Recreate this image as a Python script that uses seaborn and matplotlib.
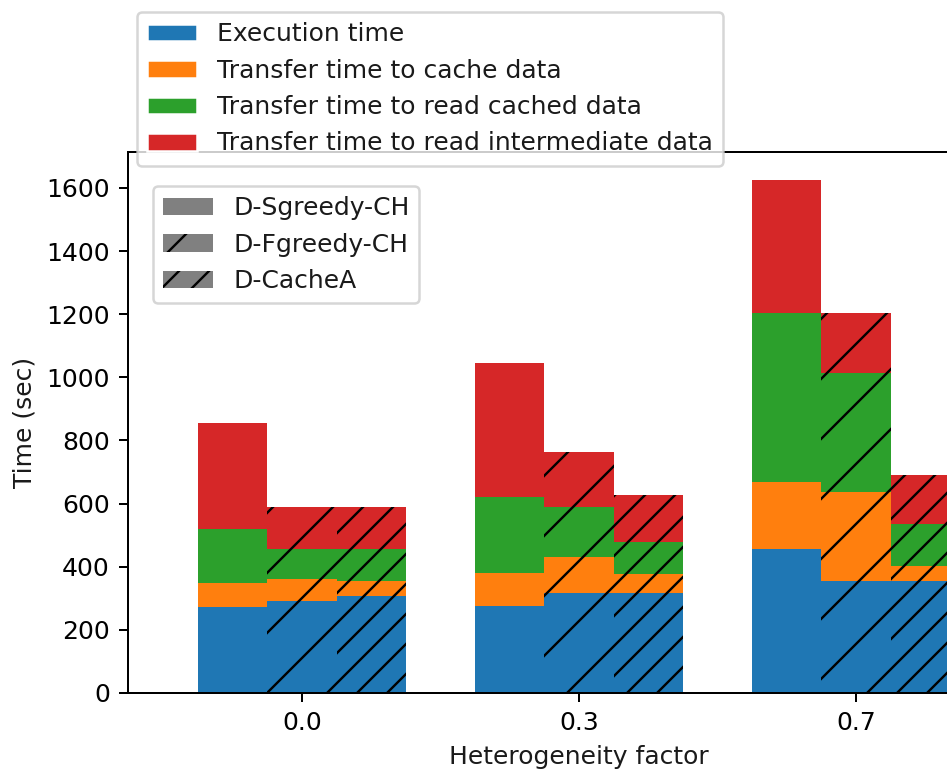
import matplotlib
matplotlib.use("Agg")
import matplotlib.pyplot as plt
from matplotlib.patches import Patch
import seaborn as sns
import pandas as pd

# values, rows = method, columns = heterogeneity factor
groups = ["0.0", "0.3", "0.7"]
methods = ["D-Sgreedy-CH", "D-Fgreedy-CH", "D-CacheA"]
hatches = ["", "/", "//"]

execution = [[274, 276, 457], [291, 317, 355], [307, 317, 355]]
to_cache = [[75, 104, 211], [70, 114, 283], [48, 60, 47]]
read_cached = [[171, 241, 536], [95, 158, 376], [101, 101, 133]]
read_interm = [[336, 425, 421], [133, 175, 190], [133, 149, 156]]

parts = ["Execution time", "Transfer time to cache data",
         "Transfer time to read cached data",
         "Transfer time to read intermediate data"]
colors = ["#1f77b4", "#ff7f0e", "#2ca02c", "#d62728"]

# hatch spacing follows the dpi, this one gives the sparse lines of the reference
DPI = 180


def pt(px):
    return px * 72 / DPI


rows = []
for i, m in enumerate(methods):
    for j, g in enumerate(groups):
        vals = [execution[i][j], to_cache[i][j], read_cached[i][j], read_interm[i][j]]
        rec = {"group": g, "method": m}
        tot = 0
        for k, v in enumerate(vals):
            tot += v
            rec[f"top{k}"] = tot
        rows.append(rec)
df = pd.DataFrame(rows)

FS = pt(25)
sns.set_theme(style="ticks")
plt.rcParams.update({
    "font.family": ["DejaVu Sans"],
    "font.size": FS,
    "axes.labelsize": FS,
    "xtick.labelsize": FS,
    "ytick.labelsize": FS,
    "legend.fontsize": FS,
    "axes.linewidth": pt(2),
    "axes.edgecolor": "black",
    "xtick.color": "black",
    "ytick.color": "black",
    "text.color": "0.1",
    "axes.labelcolor": "0.1",
    "xtick.major.width": pt(2),
    "ytick.major.width": pt(2),
    "xtick.major.size": pt(9),
    "ytick.major.size": pt(9),
    "xtick.major.pad": pt(9),
    "ytick.major.pad": pt(9),
    "axes.labelpad": pt(10),
    "hatch.linewidth": pt(2.4),
    "hatch.color": "black",
})

fig = plt.figure(figsize=(947 / DPI, 771 / DPI), dpi=DPI, facecolor="white")
ax = fig.add_axes([128 / 947, 78 / 771, 902 / 947, 541 / 771])

# stacked bars: draw cumulative tops from the highest layer down
for k in [3, 2, 1, 0]:
    sns.barplot(data=df, x="group", y=f"top{k}", hue="method", order=groups,
                hue_order=methods, palette=[colors[k]] * 3, width=0.75,
                saturation=1, errorbar=None, legend=False, linewidth=0, ax=ax)

for n, cont in enumerate(ax.containers):
    h = hatches[n % 3]
    for p in cont:
        p.set_linewidth(0)
        if h:
            p.set_edgecolor("black")
            p.set_hatch(h)

ax.set_xlim(-0.628, 2.628)
ax.set_ylim(0, 1714)
ax.set_yticks(range(0, 1601, 200))
ax.set_xlabel("Heterogeneity factor")
ax.set_ylabel("Time (sec)")

part_handles = [Patch(facecolor=c) for c in colors]
leg1 = fig.legend(part_handles, parts, loc="upper left",
                  bbox_to_anchor=(137 / 947, 1 - 12 / 771), borderaxespad=0)
leg1.get_frame().set_linewidth(pt(2.5))

method_handles = [Patch(facecolor="#808080", edgecolor="black", linewidth=0, hatch=h)
                  for h in hatches]
leg2 = ax.legend(method_handles, methods, loc="upper left",
                 bbox_to_anchor=(25 / 902, (693 - 186) / 541), borderaxespad=0)
leg2.get_frame().set_linewidth(pt(2.5))

fig.savefig("out.png", dpi=DPI, facecolor="white")
